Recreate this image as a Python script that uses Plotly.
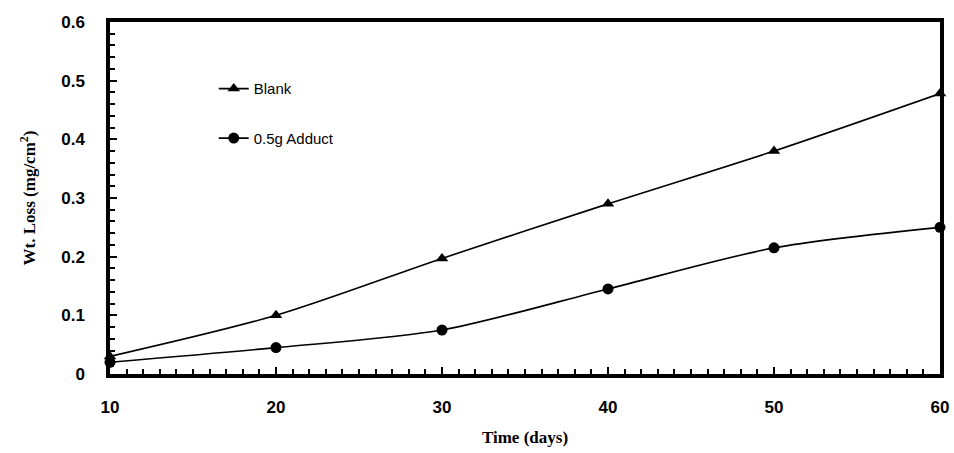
import plotly.graph_objects as go

days = [10, 20, 30, 40, 50, 60]
blank = [0.03, 0.10, 0.197, 0.29, 0.38, 0.478]
adduct = [0.02, 0.045, 0.075, 0.145, 0.215, 0.25]

fig = go.Figure()
fig.add_trace(go.Scatter(x=days, y=blank, name="Blank", mode="lines+markers",
                         line=dict(color="black", width=1.6, shape="spline", smoothing=0.8),
                         marker=dict(symbol="triangle-up", size=11, color="black"),
                         legendgroup="a", cliponaxis=False))
fig.add_trace(go.Scatter(x=days, y=adduct, name="0.5g Adduct", mode="lines+markers",
                         line=dict(color="black", width=1.6, shape="spline", smoothing=0.8),
                         marker=dict(symbol="circle", size=11, color="black"),
                         legendgroup="b", cliponaxis=False))

axis_common = dict(showline=True, linecolor="black", linewidth=3.5, mirror=True,
                   showgrid=False, zeroline=False, ticks="inside", tickcolor="black",
                   tickwidth=2, automargin=False,
                   tickfont=dict(family="Arial, Liberation Sans, sans-serif", size=17,
                                 color="black", weight="bold"))
title_font = dict(family="Times New Roman, Liberation Serif, serif", size=17,
                  color="black", weight="bold")

fig.update_layout(
    width=954, height=453,
    margin=dict(l=110, r=14, t=22, b=79),
    plot_bgcolor="white", paper_bgcolor="white",
    showlegend=True,
    legend=dict(x=0.125, y=0.857, xanchor="left", yanchor="top",
                font=dict(family="Arial, Liberation Sans, sans-serif", size=15, color="black"),
                bgcolor="rgba(0,0,0,0)", tracegroupgap=27, traceorder="grouped"),
    xaxis=dict(range=[10, 60], tickvals=[10, 20, 30, 40, 50, 60], ticklen=7,
               minor=dict(dtick=1, ticklen=5, ticks="inside", tickcolor="black", tickwidth=2),
               title=dict(text="Time (days)", font=title_font, standoff=16),
               ticklabelstandoff=15,
               **axis_common),
    yaxis=dict(range=[0, 0.6], tickvals=[0, 0.1, 0.2, 0.3, 0.4, 0.5, 0.6], ticklen=7,
               minor=dict(dtick=0.02, ticklen=5, ticks="inside", tickcolor="black", tickwidth=2),
               title=dict(text="Wt. Loss (mg/cm<sup>2</sup>)", font=title_font, standoff=22),
               ticklabelstandoff=18,
               **axis_common),
)

fig.write_html("out.html")
